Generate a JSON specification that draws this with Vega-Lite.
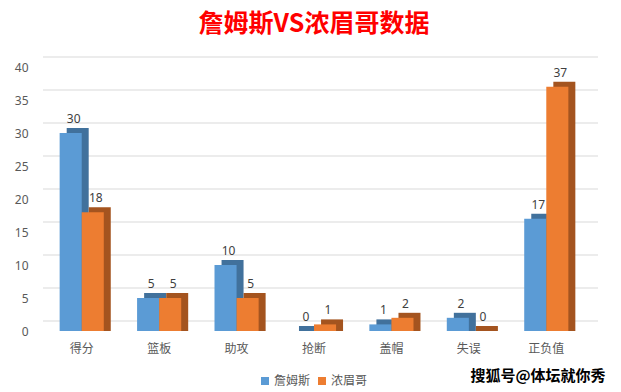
{
  "$schema": "https://vega.github.io/schema/vega-lite/v6.json",
  "autosize": {"type": "none"},
  "width": 542,
  "height": 264,
  "padding": {"left": 43, "top": 67, "right": 36, "bottom": 61},
  "background": "white",
  "config": {"view": {"stroke": null}},
  "title": {"text": "詹姆斯VS浓眉哥数据", "color": "#ff0000", "fontSize": 25, "fontWeight": "bold", "font": "Noto Sans CJK SC", "offset": 20, "anchor": "middle"},
  "data": {"values": [
    {"cat": "得分", "player": "詹姆斯", "v": 30},
    {"cat": "得分", "player": "浓眉哥", "v": 18},
    {"cat": "篮板", "player": "詹姆斯", "v": 5},
    {"cat": "篮板", "player": "浓眉哥", "v": 5},
    {"cat": "助攻", "player": "詹姆斯", "v": 10},
    {"cat": "助攻", "player": "浓眉哥", "v": 5},
    {"cat": "抢断", "player": "詹姆斯", "v": 0},
    {"cat": "抢断", "player": "浓眉哥", "v": 1},
    {"cat": "盖帽", "player": "詹姆斯", "v": 1},
    {"cat": "盖帽", "player": "浓眉哥", "v": 2},
    {"cat": "失误", "player": "詹姆斯", "v": 2},
    {"cat": "失误", "player": "浓眉哥", "v": 0},
    {"cat": "正负值", "player": "詹姆斯", "v": 17},
    {"cat": "正负值", "player": "浓眉哥", "v": 37}
  ]},
  "encoding": {
    "x": {"field": "cat", "type": "nominal", "sort": ["得分","篮板","助攻","抢断","盖帽","失误","正负值"],
      "scale": {"paddingInner": 0.43, "paddingOuter": 0.215},
      "axis": {"title": "搜狐号@体坛就你秀", "titleAnchor": "end", "titleAlign": "right", "titleBaseline": "middle", "titleX": 562, "titleY": 44, "titleFont": "Noto Sans CJK SC", "titleFontSize": 15, "titleFontWeight": "bold", "titleColor": "#000000", "labelAngle": 0, "labelColor": "#595959", "labelFontSize": 12, "labelFont": "Noto Sans CJK SC", "labelPadding": 12, "domain": false, "ticks": false}},
    "y": {"field": "v", "type": "quantitative", "scale": {"domain": [0, 40]},
      "axis": {"values": [0,5,10,15,20,25,30,35,40], "labelOverlap": false, "grid": false, "domain": false, "ticks": false, "title": null, "labelColor": "#595959", "labelFontSize": 12, "labelFont": "Noto Sans", "labelPadding": 15}}
  },
  "resolve": {"scale": {"xOffset": "independent", "color": "independent"}},
  "layer": [
    {
      "data": {"values": [{"v": 0}, {"v": 5}, {"v": 10}, {"v": 15}, {"v": 20}, {"v": 25}, {"v": 30}, {"v": 35}, {"v": 40}]},
      "mark": {"type": "rule", "xOffset": 13, "yOffset": -10, "color": "#d9d9d9", "strokeWidth": 1},
      "encoding": {"x": null}
    },
    {
      "mark": {"type": "bar", "yOffset": -5, "width": 22},
      "encoding": {
        "y2": {"datum": 0},
        "xOffset": {"field": "player", "type": "nominal", "sort": ["詹姆斯","浓眉哥"], "scale": {"paddingInner": 0.636, "paddingOuter": 0.318, "align": 1}},
        "color": {"field": "player", "type": "nominal", "sort": ["詹姆斯","浓眉哥"], "scale": {"range": ["#41719c", "#a4541f"]}, "legend": null}
      }
    },
    {
      "mark": {"type": "bar"},
      "encoding": {
        "xOffset": {"field": "player", "type": "nominal", "sort": ["詹姆斯","浓眉哥"], "scale": {"paddingInner": 0, "paddingOuter": 0}},
        "color": {"field": "player", "type": "nominal", "sort": ["詹姆斯","浓眉哥"], "scale": {"range": ["#5b9bd5", "#ed7d31"]},
          "legend": {"title": null, "orient": "none", "legendX": 216, "legendY": 308, "direction": "horizontal", "symbolType": "square", "symbolSize": 64, "labelOffset": 3, "labelColor": "#595959", "labelFontSize": 12, "labelFont": "Noto Sans CJK SC", "columnPadding": 5, "symbolStrokeWidth": 0}}
      }
    },
    {
      "mark": {"type": "text", "dy": -14, "dx": 3, "color": "#404040", "fontSize": 12, "font": "Noto Sans"},
      "encoding": {
        "xOffset": {"field": "player", "type": "nominal", "sort": ["詹姆斯","浓眉哥"], "scale": {"type": "point", "padding": 0.5}},
        "text": {"field": "v", "type": "quantitative"}
      }
    }
  ]
}
